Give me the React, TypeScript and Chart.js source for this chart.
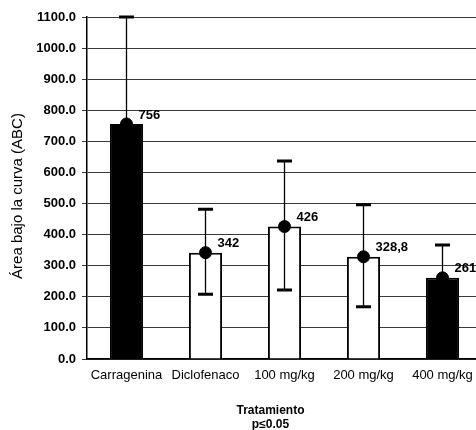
import { useEffect, useRef } from "react";
import { Chart, registerables } from "chart.js";

Chart.register(...registerables);

const categories = ["Carragenina", "Diclofenaco", "100 mg/kg", "200 mg/kg", "400 mg/kg"];
const means = [756, 342, 426, 328.8, 261];
const meanLabels = ["756", "342", "426", "328,8", "261"];
const errorHigh = [1100, 482, 637, 496, 367];
const errorLow = [412, 208, 222, 168, 155];
const barColors = ["#000000", "#ffffff", "#ffffff", "#ffffff", "#000000"];
const yMin = 0;
const yMax = 1100;
const yStep = 100;
const yTitle = "Área bajo la curva (ABC)";
const xTitle = "Tratamiento";
const xSubtitle = "p≤0.05";

const FONT = "'Liberation Sans', Arial, sans-serif";

const errorBarPlugin = {
  id: "errorBars",
  afterDatasetsDraw(chart: any) {
    const { ctx, scales } = chart;
    const x = scales.x;
    const y = scales.y;
    ctx.save();
    ctx.strokeStyle = "#000";
    categories.forEach((_c, i) => {
      const px = x.getPixelForValue(i);
      const hi = y.getPixelForValue(errorHigh[i]);
      const lo = y.getPixelForValue(errorLow[i]);
      ctx.lineWidth = 1.3;
      ctx.beginPath();
      ctx.moveTo(px, hi);
      ctx.lineTo(px, lo);
      ctx.stroke();
      ctx.lineWidth = 3;
      ctx.beginPath();
      ctx.moveTo(px - 7.5, hi);
      ctx.lineTo(px + 7.5, hi);
      ctx.moveTo(px - 7.5, lo);
      ctx.lineTo(px + 7.5, lo);
      ctx.stroke();
    });
    ctx.fillStyle = "#000";
    ctx.font = `bold 13px ${FONT}`;
    ctx.textAlign = "left";
    ctx.textBaseline = "middle";
    means.forEach((v, i) => {
      const px = x.getPixelForValue(i);
      const py = y.getPixelForValue(v);
      ctx.fillText(meanLabels[i], px + 12, py - 9);
    });
    ctx.restore();
  },
};

const titlesPlugin = {
  id: "titles",
  afterDraw(chart: any) {
    const { ctx, chartArea } = chart;
    const cx = (chartArea.left + chartArea.right) / 2 - 14;
    ctx.save();
    ctx.fillStyle = "#000";
    ctx.font = `bold 12px ${FONT}`;
    ctx.textAlign = "center";
    ctx.textBaseline = "middle";
    ctx.fillText(xTitle, cx, chartArea.bottom + 52);
    ctx.fillText(xSubtitle, cx, chartArea.bottom + 66);
    // y title
    const cy = (chartArea.top + chartArea.bottom) / 2 + 8;
    ctx.translate(18, cy);
    ctx.rotate(-Math.PI / 2);
    ctx.font = `15px ${FONT}`;
    ctx.fillText(yTitle, 0, 0);
    ctx.restore();
  },
};

export default function App() {
  const ref = useRef<HTMLCanvasElement | null>(null);

  useEffect(() => {
    if (!ref.current) return;
    Chart.defaults.font.family = FONT;
    const chart = new Chart(ref.current, {
      type: "bar",
      data: {
        labels: categories,
        datasets: [
          {
            type: "line" as any,
            data: means,
            showLine: false,
            pointRadius: 6,
            pointBackgroundColor: "#000",
            pointBorderColor: "#000",
            order: 0,
          } as any,
          {
            type: "bar",
            data: means,
            backgroundColor: barColors,
            borderColor: "#000",
            borderWidth: 2,
            barPercentage: 0.42,
            categoryPercentage: 1,
            order: 1,
          },
        ],
      },
      options: {
        animation: false,
        responsive: false,
        layout: { padding: { top: 17, right: 18, bottom: 0, left: 0 } },
        plugins: {
          legend: { display: false },
          tooltip: { enabled: false },
        },
        scales: {
          x: {
            grid: { display: false, drawTicks: false },
            border: { display: true, color: "#000", width: 1.5 },
            ticks: {
              color: "#000",
              font: { size: 13, family: FONT },
              padding: 9,
              maxRotation: 0,
              autoSkip: false,
            },
            afterFit: (scale: any) => {
              scale.height = 71;
            },
          },
          y: {
            min: yMin,
            max: yMax,
            grid: {
              color: "#3a3a3a",
              lineWidth: 1,
              tickLength: 5,
            },
            border: { display: true, color: "#000", width: 1.5 },
            ticks: {
              stepSize: yStep,
              color: "#000",
              font: { size: 13, weight: "bold", family: FONT },
              padding: 6,
              callback: (v: any) => Number(v).toFixed(1),
            },
            afterFit: (scale: any) => {
              scale.width = 87;
            },
          },
        },
      },
      plugins: [errorBarPlugin, titlesPlugin],
    });
    return () => chart.destroy();
  }, []);

  return (
    <div
      style={{
        position: "fixed",
        left: 0,
        top: 0,
        width: 476,
        height: 430,
        overflow: "hidden",
        background: "#fff",
      }}
    >
      <canvas ref={ref} width={500} height={430} style={{ display: "block" }} />
    </div>
  );
}
